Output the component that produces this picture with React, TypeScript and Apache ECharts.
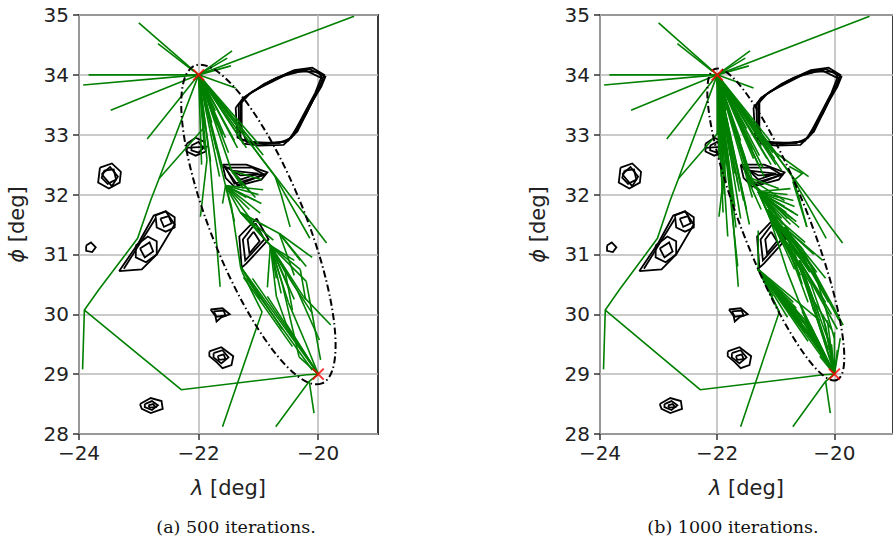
import React, { useEffect, useRef } from "react";
import * as echarts from "echarts";

// ---------- axes ----------
const xRange = [-24, -19];
const yRange = [28, 35];
const xTicks = [-24, -22, -20];
const yStep = 1;
const captions = ["(a) 500 iterations.", "(b) 1000 iterations."];

// ---------- markers ----------
const startPt = [-22, 34];
const goalPt = [-20, 29];

// ---------- informed-sampling ellipses: [cx, cy, a, b, angleDeg] ----------
const ellipseA = [-21, 31.5, 2.86, 0.79, 111.8];
const ellipseB = [-21, 31.5, 2.85, 0.56, 111.8];

// ---------- obstacles (contour rings) ----------
const obsLeaf = [
  [[-21.33, 33.5], [-21.2, 33.65], [-20.9, 33.85], [-20.45, 34.05], [-20.15, 34.1], [-19.88, 33.97], [-19.95, 33.8], [-20.1, 33.55], [-20.4, 33.0], [-20.58, 32.83], [-21.0, 32.82], [-21.25, 32.85], [-21.32, 33.0], [-21.33, 33.5]],
  [[-21.28, 33.58], [-21.1, 33.72], [-20.5, 34.02], [-20.2, 34.07], [-19.95, 33.95], [-20.05, 33.7], [-20.45, 32.95], [-20.65, 32.86], [-21.2, 32.88], [-21.28, 33.1], [-21.28, 33.58]],
  [[-21.38, 33.45], [-21.25, 33.62], [-20.8, 33.9], [-20.4, 34.08], [-20.1, 34.12], [-19.9, 34.0], [-20.0, 33.75], [-20.35, 33.05], [-20.55, 32.88], [-21.1, 32.85], [-21.35, 32.95], [-21.38, 33.45]],
  [[-21.3, 33.52], [-21.15, 33.68], [-20.7, 33.95], [-20.3, 34.06], [-20.0, 34.05], [-19.92, 33.92], [-20.2, 33.35], [-20.5, 32.9], [-20.9, 32.84], [-21.3, 32.92], [-21.3, 33.52]],
];
const obsSmall = [
  [[-22.2, 32.85], [-22.05, 32.95], [-21.9, 32.88], [-21.88, 32.72], [-22.05, 32.65], [-22.2, 32.72], [-22.2, 32.85]],
  [[-22.12, 32.82], [-22.0, 32.88], [-21.92, 32.78], [-22.0, 32.7], [-22.12, 32.74], [-22.12, 32.82]],
  [[-22.22, 32.78], [-21.85, 32.8]],
];
const obsTri = [
  [[-21.6, 32.5], [-21.2, 32.5], [-20.85, 32.37], [-20.95, 32.25], [-21.4, 32.13], [-21.55, 32.28], [-21.6, 32.5]],
  [[-21.55, 32.45], [-21.1, 32.45], [-20.9, 32.33], [-21.4, 32.18], [-21.55, 32.45]],
  [[-21.45, 32.4], [-21.0, 32.35], [-21.3, 32.25], [-21.45, 32.4]],
  [[-21.58, 32.48], [-21.3, 32.32], [-20.88, 32.34], [-21.35, 32.16], [-21.58, 32.48]],
];
const obsDiamond = [
  [[-21.03, 31.6], [-20.83, 31.25], [-21.2, 30.85], [-21.28, 30.78], [-21.32, 31.3], [-21.03, 31.6]],
  [[-21.05, 31.52], [-20.9, 31.25], [-21.22, 30.9], [-21.26, 31.25], [-21.05, 31.52]],
  [[-21.08, 31.38], [-20.98, 31.22], [-21.15, 31.02], [-21.18, 31.25], [-21.08, 31.38]],
];
const obsMid = [
  [[-21.8, 30.08], [-21.6, 30.1], [-21.48, 30.0], [-21.62, 29.95], [-21.7, 29.88], [-21.72, 29.97], [-21.8, 30.08]],
  [[-21.75, 30.05], [-21.58, 30.06], [-21.55, 29.98], [-21.7, 29.96], [-21.75, 30.05]],
];
const obsLow = [
  [[-21.82, 29.38], [-21.62, 29.45], [-21.42, 29.3], [-21.45, 29.15], [-21.6, 29.1], [-21.7, 29.2], [-21.82, 29.3], [-21.82, 29.38]],
  [[-21.75, 29.35], [-21.6, 29.4], [-21.5, 29.28], [-21.62, 29.18], [-21.75, 29.28], [-21.75, 29.35]],
  [[-21.68, 29.3], [-21.58, 29.33], [-21.55, 29.25], [-21.66, 29.24], [-21.68, 29.3]],
];
const obsBottom = [
  [[-22.98, 28.5], [-22.8, 28.6], [-22.62, 28.55], [-22.6, 28.42], [-22.8, 28.35], [-22.95, 28.42], [-22.98, 28.5]],
  [[-22.9, 28.5], [-22.78, 28.55], [-22.68, 28.48], [-22.78, 28.4], [-22.9, 28.45], [-22.9, 28.5]],
  [[-22.84, 28.48], [-22.76, 28.5], [-22.72, 28.45], [-22.82, 28.44], [-22.84, 28.48]],
];
const obsHex = [
  [[-23.65, 32.45], [-23.45, 32.52], [-23.3, 32.38], [-23.32, 32.2], [-23.5, 32.1], [-23.68, 32.2], [-23.65, 32.45]],
  [[-23.58, 32.4], [-23.42, 32.42], [-23.38, 32.25], [-23.52, 32.18], [-23.62, 32.28], [-23.58, 32.4]],
  [[-23.62, 32.34], [-23.48, 32.46], [-23.35, 32.3], [-23.45, 32.14], [-23.62, 32.34]],
];
const obsTiny = [
  [[-23.88, 31.15], [-23.8, 31.2], [-23.72, 31.12], [-23.78, 31.04], [-23.88, 31.06], [-23.88, 31.15]],
];
const obsLong = [
  [[-22.72, 31.65], [-22.55, 31.72], [-22.4, 31.62], [-22.4, 31.45], [-22.55, 31.38], [-22.7, 31.45], [-22.72, 31.65]],
  [[-22.64, 31.6], [-22.5, 31.64], [-22.45, 31.52], [-22.58, 31.46], [-22.64, 31.6]],
  [[-23.05, 31.15], [-22.85, 31.3], [-22.7, 31.22], [-22.7, 31.0], [-22.88, 30.87], [-23.05, 30.95], [-23.05, 31.15]],
  [[-22.98, 31.1], [-22.82, 31.2], [-22.76, 31.05], [-22.9, 30.95], [-22.98, 31.1]],
  [[-23.33, 30.72], [-22.95, 30.75], [-22.7, 31.0], [-22.4, 31.5], [-22.55, 31.72], [-22.75, 31.65], [-23.0, 31.2], [-23.33, 30.72]],
  [[-23.25, 30.76], [-22.72, 31.6]],
];

// ---------- tree edges shared by both runs ----------
const outerBranches = [
  [[-22, 34], [-23.0, 34.87]],
  [[-22.08, 34.06], [-22.68, 34.52]],
  [[-22, 34], [-23.84, 34.0]],
  [[-22, 34], [-23.93, 33.83]],
  [[-22, 34], [-23.47, 33.41]],
  [[-22, 34], [-22.86, 32.93]],
  [[-21.92, 34.03], [-19.4, 34.98]],
  [[-22, 34], [-21.44, 34.4]],
  [[-22, 34], [-21.52, 34.28]],
  [[-22, 34], [-21.46, 34.15]],
  [[-22, 34], [-21.38, 33.78]],
  [[-22, 34], [-22.66, 32.27], [-22.8, 31.91], [-23.02, 31.27], [-23.29, 30.91], [-23.67, 30.41], [-23.91, 30.07], [-23.94, 29.08]],
  [[-21.9, 33.13], [-22.66, 32.27]],
  [[-23.91, 30.07], [-22.29, 28.74], [-20.19, 28.99], [-20, 29]],
  [[-20, 29], [-20.15, 28.88], [-20.71, 28.12]],
  [[-20.15, 28.88], [-20.07, 28.35]],
  [[-21.27, 30.7], [-20.94, 30.04], [-21.6, 28.12]],
  [[-21.86, 32.58], [-21.97, 31.63]],
  [[-21.81, 32.58], [-21.64, 30.46]],
  [[-20.98, 32.65], [-19.86, 31.19]],
  [[-21.05, 32.74], [-20.72, 32.3], [-20.14, 31.27]],
  [[-20.72, 32.3], [-20.62, 32.0], [-20.47, 31.46]],
];

// ---------- run (a): 500 iterations ----------
const fanA_start = [[-21.85, 33.45], [-21.75, 33.3], [-21.9, 33.13], [-21.6, 33.0], [-21.3, 33.0], [-21.9, 32.75], [-21.8, 32.55], [-21.65, 32.3], [-21.5, 32.7], [-21.35, 32.78], [-21.2, 32.78], [-21.05, 32.74], [-20.92, 32.66], [-21.0, 32.85], [-21.45, 32.4], [-21.55, 32.15], [-21.72, 33.4], [-21.8, 33.6], [-21.65, 33.5], [-21.95, 32.5], [-21.4, 32.9], [-21.12, 32.9], [-21.86, 32.58], [-21.81, 32.58], [-20.98, 32.65], [-21.78, 33.2], [-21.68, 33.15], [-21.55, 32.95], [-21.25, 32.85], [-21.7, 32.75], [-21.6, 32.45]];
const hubA1 = [-21.55, 32.15];
const fanA_1 = [[-20.92, 32.08], [-20.97, 31.69], [-21.45, 31.8], [-21.3, 31.7], [-21.1, 31.55], [-21.6, 31.85], [-21.05, 31.9], [-20.95, 31.85], [-21.2, 31.95], [-21.4, 31.55], [-21.15, 31.75], [-21.0, 32.0]];
const hubA2 = [-21.45, 32.4];
const fanA_2 = [[-21.05, 31.95], [-20.95, 32.25], [-21.15, 32.05], [-21.25, 32.1]];
const hubA3 = [-21.3, 31.7];
const fanA_3 = [[-20.75, 31.24], [-20.86, 31.46], [-20.65, 31.35], [-20.8, 31.15], [-20.95, 31.35], [-20.7, 31.05]];
const hubA4 = [-20.8, 31.15];
const fanA_4 = [[-20.55, 30.7], [-20.45, 30.55], [-20.35, 30.4], [-20.25, 30.3], [-20.6, 30.5], [-20.7, 30.3], [-20.5, 30.2], [-20.3, 30.75], [-20.85, 30.45], [-20.7, 30.6], [-20.4, 30.9], [-20.2, 30.55], [-20.5, 30.45], [-20.4, 30.25], [-20.62, 30.35]];
const hubA5 = [-20.65, 31.35];
const fanA_5 = [[-20.3, 30.9], [-20.2, 30.8], [-20.4, 30.65], [-20.1, 30.95]];
const fanA_goal = [[-21.3, 30.8], [-21.1, 30.6], [-20.85, 30.3], [-20.54, 29.85], [-20.32, 29.29], [-20.21, 29.52], [-20.45, 29.7]];
const branchesA = [
  [[-20.45, 30.55], [-20.1, 30.02]],
  [[-20.35, 30.4], [-19.98, 29.57]],
  [[-20.25, 30.3], [-19.79, 29.82]],
  [[-20.5, 30.2], [-20.21, 29.52]],
  [[-20.6, 30.5], [-20.32, 29.29]],
  [[-20.7, 30.3], [-20.54, 29.85]],
  [[-20.55, 30.7], [-20.43, 30.07]],
  [[-20.2, 30.55], [-19.96, 29.24]],
  [[-20.3, 30.75], [-20.21, 30.24]],
  [[-21.45, 31.8], [-21.3, 30.8]],
  [[-21.3, 30.8], [-20.97, 30.25]],
  [[-21.3, 30.8], [-20.6, 29.75]],
  [[-21.25, 30.62], [-20.43, 29.46]],
  [[-21.2, 30.6], [-20.1, 29.07]],
  [[-21.3, 30.8], [-21.27, 30.7]],
];

// ---------- run (b): 1000 iterations ----------
const fanB_start = [[-22.0, 33.0], [-21.97, 32.6], [-21.93, 32.3], [-21.88, 32.0], [-21.8, 32.8], [-21.72, 32.5], [-21.65, 32.2], [-21.6, 32.9], [-21.52, 32.6], [-21.45, 32.3], [-21.4, 32.75], [-21.3, 32.5], [-21.25, 32.8], [-21.15, 32.6], [-21.05, 32.7], [-21.0, 32.5], [-20.95, 32.62], [-20.9, 32.4], [-21.2, 32.3], [-21.35, 32.1], [-21.55, 31.9], [-21.75, 33.2], [-21.85, 33.4], [-21.5, 33.1], [-21.3, 33.05], [-21.1, 32.9], [-21.7, 31.8], [-21.6, 31.6], [-21.4, 31.95], [-21.9, 31.7], [-21.82, 31.3], [-21.65, 30.8], [-21.86, 32.58], [-21.81, 32.58], [-20.98, 32.65], [-20.99, 32.69], [-21.9, 33.13],
  [-21.95, 32.85], [-21.9, 32.45], [-21.85, 32.2], [-21.78, 32.65], [-21.7, 32.35], [-21.62, 32.05], [-21.58, 32.75], [-21.48, 32.45], [-21.42, 32.15], [-21.38, 32.6], [-21.28, 32.65], [-21.22, 32.45], [-21.12, 32.75], [-21.08, 32.5], [-21.02, 32.6], [-21.5, 31.75], [-21.45, 31.5], [-21.75, 31.95], [-21.68, 31.45]];
const hubB1 = [-21.3, 32.05];
const fanB_1 = [[-20.7, 31.7], [-20.75, 31.5], [-20.8, 31.3], [-20.85, 31.8], [-20.9, 31.6], [-20.95, 31.95], [-21.0, 31.4], [-20.65, 31.55], [-20.8, 32.0], [-20.7, 31.9], [-21.05, 31.75], [-20.6, 31.45], [-20.9, 31.2], [-21.1, 31.6], [-20.75, 32.1], [-20.68, 31.8], [-20.72, 31.6], [-20.78, 31.4], [-20.82, 31.7], [-20.88, 31.5], [-20.62, 31.65], [-20.92, 31.75], [-20.98, 31.55]];
const hubB2 = [-21.5, 32.3];
const fanB_2 = [[-20.85, 31.9], [-21.0, 31.7], [-20.95, 32.1], [-21.15, 31.9], [-20.8, 31.6], [-21.25, 31.75]];
const hubB3 = [-21.15, 31.75];
const fanB_3 = [[-20.9, 31.3], [-20.75, 31.0], [-20.6, 30.8], [-20.5, 30.6], [-20.45, 30.9], [-20.65, 31.15], [-20.35, 30.75], [-20.55, 31.1], [-20.8, 30.7], [-20.4, 30.5], [-20.7, 30.9], [-20.5, 31.2], [-20.6, 31.0], [-20.42, 30.7], [-20.58, 30.65], [-20.68, 30.75], [-20.48, 30.8], [-20.3, 30.6]];
const hubB4 = [-20.85, 31.45];
const fanB_4 = [[-20.3, 30.7], [-20.25, 30.5], [-20.4, 30.3], [-20.2, 30.9], [-20.55, 30.5], [-20.15, 30.6], [-20.35, 31.0]];
const hubB5 = [-21.3, 30.75];
const fanB_5 = [[-20.4, 29.8], [-20.3, 29.6], [-20.2, 29.4], [-20.6, 30.0], [-20.7, 30.2], [-20.9, 30.35], [-20.5, 29.7], [-20.1, 29.2], [-20.25, 29.9], [-20.8, 29.95], [-21.05, 30.3], [-20.95, 30.05], [-20.55, 29.85], [-20.35, 29.7], [-20.45, 29.55], [-20.15, 29.3], [-20.65, 30.1], [-20.75, 30.05], [-20.28, 29.45]];
const hubB6 = [-20.6, 30.9];
const fanB_6 = [[-20.15, 30.2], [-20.05, 30.0], [-20.25, 29.95], [-20.1, 29.55], [-19.95, 29.75], [-20.35, 30.05]];
const fanB_goal = [[-20.4, 29.8], [-20.3, 29.6], [-20.5, 29.9], [-20.2, 30.0], [-20.1, 29.6], [-20.6, 30.2], [-20.9, 30.35], [-20.15, 29.8], [-20.05, 29.5], [-20.25, 29.3], [-20.35, 30.1], [-19.95, 29.4], [-21.3, 30.75], [-20.45, 29.75], [-20.55, 30.05], [-20.7, 30.15], [-20.12, 29.9], [-20.0, 29.7], [-19.9, 29.6]];
const branchesB = [
  [[-20.6, 30.8], [-20.05, 29.2]],
  [[-20.5, 30.6], [-20.1, 29.4]],
  [[-20.45, 30.9], [-19.85, 29.82]],
  [[-20.35, 30.75], [-20.0, 29.6]],
  [[-20.4, 30.5], [-20.15, 29.8]],
  [[-20.8, 30.7], [-20.3, 29.45]],
  [[-20.55, 31.1], [-20.2, 30.4]],
  [[-20.75, 31.0], [-20.45, 30.2]],
  [[-20.9, 31.3], [-20.3, 30.6]],
  [[-20.65, 31.15], [-20.1, 30.2]],
  [[-20.25, 30.5], [-19.92, 29.9]],
  [[-20.4, 30.3], [-20.05, 29.75]],
  [[-21.3, 31.4], [-21.3, 30.75]],
  [[-20.99, 32.69], [-20.44, 32.3]],
  [[-20.77, 32.47], [-20.55, 32.35], [-20.71, 32.22]],
  [[-20.71, 32.22], [-20.47, 31.46]],
];

// ---------- helpers ----------
const fan = (hub: number[], ends: number[][]) => ends.map((e) => [hub, e]);
const obstacles = [obsLeaf, obsSmall, obsTri, obsDiamond, obsMid, obsLow, obsBottom, obsHex, obsTiny, obsLong].flat();

const treeA = [
  ...outerBranches,
  ...fan(startPt, fanA_start),
  ...fan(hubA1, fanA_1),
  ...fan(hubA2, fanA_2),
  ...fan(hubA3, fanA_3),
  ...fan(hubA4, fanA_4),
  ...fan(hubA5, fanA_5),
  ...fan(goalPt, fanA_goal),
  ...branchesA,
];
const treeB = [
  ...outerBranches,
  ...fan(startPt, fanB_start),
  ...fan(hubB1, fanB_1),
  ...fan(hubB2, fanB_2),
  ...fan(hubB3, fanB_3),
  ...fan(hubB4, fanB_4),
  ...fan(hubB5, fanB_5),
  ...fan(hubB6, fanB_6),
  ...fan(goalPt, fanB_goal),
  ...branchesB,
];

const minus = (v: number) => (v < 0 ? "\u2212" + Math.abs(v) : String(v));
const TICK_FONT = "DejaVu Sans";

function axesFor(i: number) {
  const gridLine = { show: true, lineStyle: { color: "#b8b8b8", width: 1.5 } };
  const tick = { show: true, length: 6, lineStyle: { color: "#333", width: 1.5 } };
  const x = {
    type: "value", gridIndex: i, min: xRange[0], max: xRange[1], interval: 2,
    axisLine: { show: false },
    axisTick: { ...tick, customValues: xTicks },
    splitLine: gridLine,
    axisLabel: { customValues: xTicks, formatter: minus, fontFamily: TICK_FONT, fontSize: 20, color: "#222", margin: 9 },
    name: "{i|\u03bb} [deg]", nameLocation: "middle", nameGap: 43,
    nameTextStyle: { fontFamily: TICK_FONT, fontSize: 21, color: "#222", rich: { i: { fontFamily: TICK_FONT, fontStyle: "italic", fontSize: 21, color: "#222" } } },
  };
  const y = {
    type: "value", gridIndex: i, min: yRange[0], max: yRange[1], interval: yStep,
    axisLine: { show: false }, axisTick: tick, splitLine: gridLine,
    axisLabel: { formatter: minus, fontFamily: TICK_FONT, fontSize: 20, color: "#222", margin: 10 },
    name: "{i|\u03d5} [deg]", nameLocation: "middle", nameGap: 52, nameRotate: 90,
    nameTextStyle: { fontFamily: TICK_FONT, fontSize: 21, color: "#222", rich: { i: { fontFamily: TICK_FONT, fontStyle: "italic", fontSize: 21, color: "#222" } } },
  };
  return { x, y };
}

function seriesFor(i: number, tree: number[][][], ell: number[]) {
  return [
    {
      type: "lines", coordinateSystem: "cartesian2d", xAxisIndex: i, yAxisIndex: i, polyline: true, silent: true,
      lineStyle: { color: "#000", width: 1.8, opacity: 1 },
      data: obstacles.map((r) => ({ coords: r })),
    },
    {
      type: "lines", coordinateSystem: "cartesian2d", xAxisIndex: i, yAxisIndex: i, polyline: true, silent: true,
      lineStyle: { color: "#008000", width: 1.6, opacity: 1 },
      data: tree.map((r) => ({ coords: r })),
    },
    {
      type: "custom", xAxisIndex: i, yAxisIndex: i, silent: true,
      data: [ell],
      renderItem: (_p: any, api: any) => {
        const c = api.coord([api.value(0), api.value(1)]);
        const s = api.size([1, 1]);
        const th = (api.value(4) * Math.PI) / 180;
        const rot = Math.atan2(Math.sin(th) * s[1], Math.cos(th) * s[0]);
        return {
          type: "ellipse", x: c[0], y: c[1], rotation: rot,
          shape: { cx: 0, cy: 0, rx: api.value(2) * s[0], ry: api.value(3) * s[1] },
          style: { fill: "none", stroke: "#000", lineWidth: 2, lineDash: [7, 3, 1.5, 3] },
        };
      },
    },
    {
      type: "scatter", xAxisIndex: i, yAxisIndex: i, silent: true,
      symbol: "path://M0 0L10 10M10 0L0 10", symbolSize: 11,
      itemStyle: { color: "rgba(0,0,0,0)", borderColor: "#ff0000", borderWidth: 2 },
      data: [startPt, goalPt], z: 5,
    },
  ];
}

export default function App() {
  const ref = useRef<HTMLDivElement>(null);
  useEffect(() => {
    const chart = echarts.init(ref.current!, null, { renderer: "svg" });
    const a0 = axesFor(0);
    const a1 = axesFor(1);
    chart.setOption({
      animation: false,
      backgroundColor: "#fff",
      grid: [
        { left: 79, top: 15, width: 299, height: 419, show: true, borderColor: "#3a3a3a", borderWidth: 2, containLabel: false },
        { left: 600, top: 15, width: 299, height: 419, show: true, borderColor: "#3a3a3a", borderWidth: 2, containLabel: false },
      ],
      xAxis: [a0.x, a1.x],
      yAxis: [a0.y, a1.y],
      series: [...seriesFor(0, treeA, ellipseA), ...seriesFor(1, treeB, ellipseB)],
      graphic: [
        { type: "text", x: 236, y: 527, style: { text: captions[0], fontFamily: "DejaVu Serif", fontSize: 17.5, fill: "#111", align: "center", verticalAlign: "middle" } },
        { type: "text", x: 733, y: 527, style: { text: captions[1], fontFamily: "DejaVu Serif", fontSize: 17.5, fill: "#111", align: "center", verticalAlign: "middle" } },
      ],
    });
    return () => chart.dispose();
  }, []);
  return <div ref={ref} style={{ position: "fixed", left: 0, top: 0, width: 893, height: 538, background: "#fff" }} />;
}
